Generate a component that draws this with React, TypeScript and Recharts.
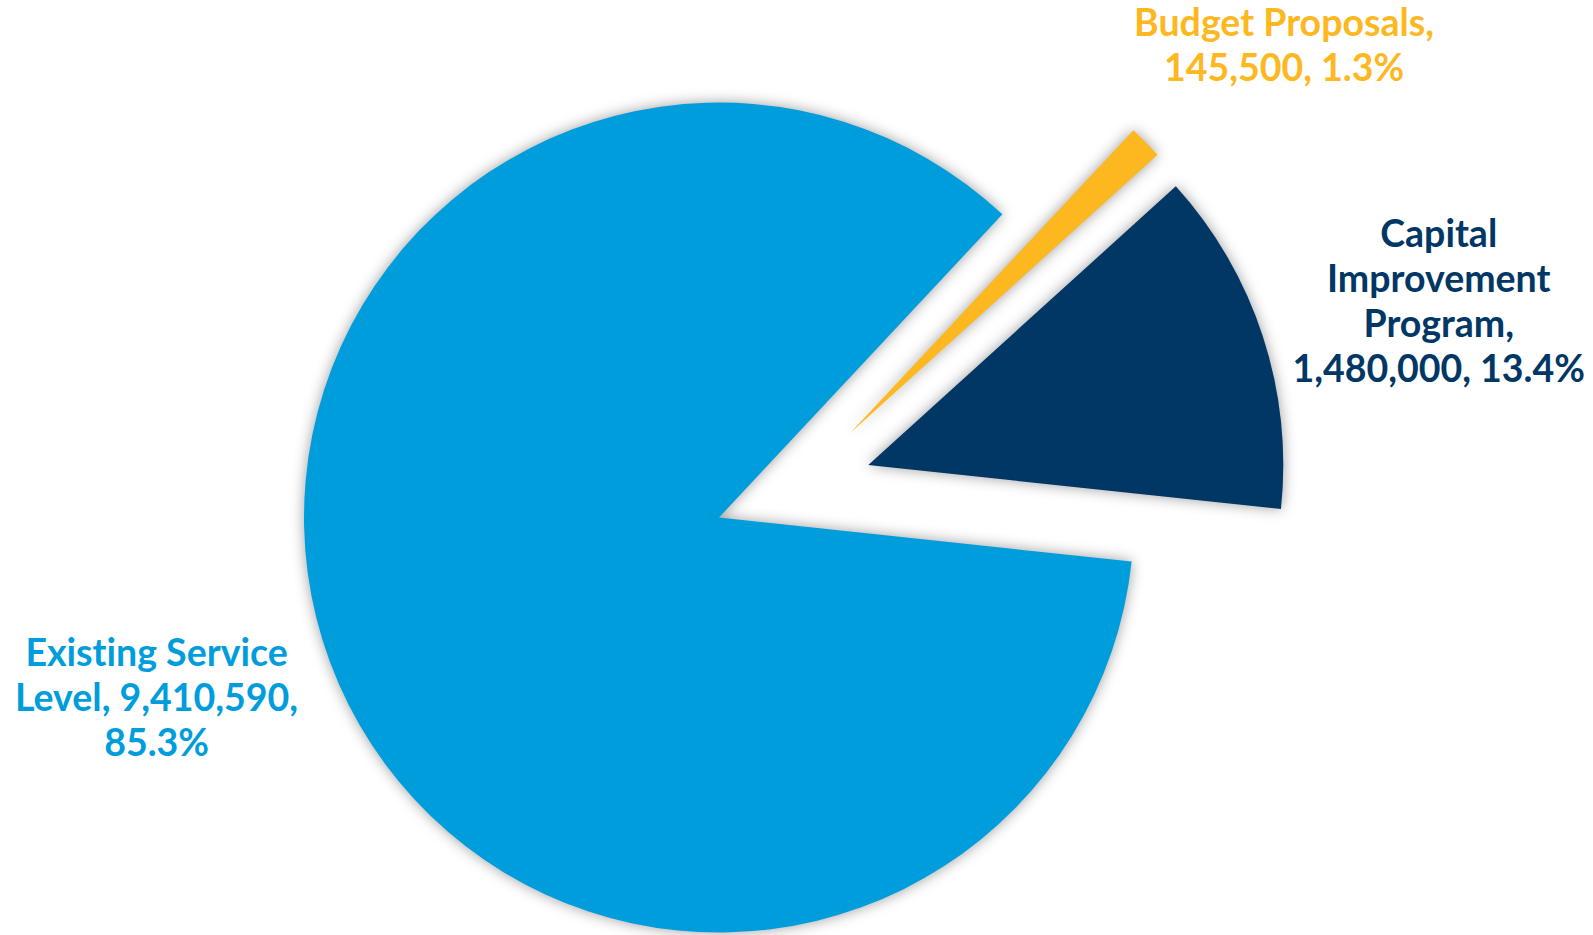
import React from "react";
import { PieChart, Pie, Cell } from "recharts";

// ---- data ----
const categories = ["Capital Improvement Program", "Budget Proposals", "Existing Service Level"];
const amounts = [1480000, 145500, 9410590];

// ---- styles / layout ----
const colors = ["#003764", "#FDB71F", "#009DDC"];
const sliceCenters = [
  { cx: 868.3, cy: 465 },
  { cx: 850, cy: 433.3 },
  { cx: 719, cy: 517.5 },
];
const drawOrder = [2, 0, 1];
const labelNudges = [
  { dx: 2, dy: -5 },
  { dx: -4, dy: 8 },
  { dx: -1, dy: -1 },
];
const RADIUS = 415;
const START = -6.1;
const LABEL_R = 590;
const FONT_SIZE = 37.5;
const LINE_H = 45;
const MAX_CHARS = 17;

const data = categories.map((name, i) => ({ name, value: amounts[i] }));
const total = amounts.reduce((a, b) => a + b, 0);

function wrap(text: string, max: number): string[] {
  const words = text.split(" ");
  const lines: string[] = [];
  let cur = "";
  for (const w of words) {
    const cand = cur ? cur + " " + w : w;
    if (cand.length > max && cur) {
      lines.push(cur);
      cur = w;
    } else {
      cur = cand;
    }
  }
  if (cur) lines.push(cur);
  return lines;
}

const RAD = Math.PI / 180;

function makeLabel(visible: number) {
  return (props: any) => {
    const { cx, cy, midAngle, index } = props;
    if (index !== visible) return null;
    const d = data[index];
    const pct = ((d.value / total) * 100).toFixed(1);
    const text = `${d.name}, ${d.value.toLocaleString("en-US")}, ${pct}%`;
    const lines = wrap(text, MAX_CHARS);
    const ang = (midAngle - 2.5) * RAD;
    const x = cx + LABEL_R * Math.cos(ang) + labelNudges[index].dx;
    const yc = cy - LABEL_R * Math.sin(ang) + labelNudges[index].dy;
    const firstBaseline = yc - ((lines.length - 1) / 2) * LINE_H + 12.8;
    return (
      <text
        key={`lbl-${index}`}
        x={x}
        y={firstBaseline}
        textAnchor="middle"
        fill={colors[index]}
        fontFamily="Lato, 'Open Sans', sans-serif"
        fontWeight={700}
        fontSize={FONT_SIZE}
        style={{ fontVariantLigatures: "none", fontFeatureSettings: "'liga' 0" }}
      >
        {lines.map((ln, k) => (
          <tspan key={k} x={x} dy={k === 0 ? 0 : LINE_H}>
            {ln}
          </tspan>
        ))}
      </text>
    );
  };
}

export default function App() {
  return (
    <div style={{ position: "absolute", left: 0, top: 0, width: 1593, height: 935, background: "#fff" }}>
      <style>{`
        .recharts-sector:not([fill="none"]) { filter: drop-shadow(0px 0px 7px rgba(0,0,0,0.38)); }
      `}</style>
      <PieChart width={1593} height={935} margin={{ top: 0, right: 0, bottom: 0, left: 0 }}>
        {drawOrder.map((vi) => (
          <Pie
            key={`pie-${vi}`}
            data={data}
            dataKey="value"
            nameKey="name"
            cx={sliceCenters[vi].cx}
            cy={sliceCenters[vi].cy}
            innerRadius={0}
            outerRadius={RADIUS}
            startAngle={START}
            endAngle={START + 360}
            stroke="none"
            isAnimationActive={false}
            label={makeLabel(vi)}
            labelLine={false}
          >
            {data.map((_, i) => (
              <Cell key={`c-${i}`} fill={i === vi ? colors[i] : "none"} stroke="none" />
            ))}
          </Pie>
        ))}
      </PieChart>
    </div>
  );
}
